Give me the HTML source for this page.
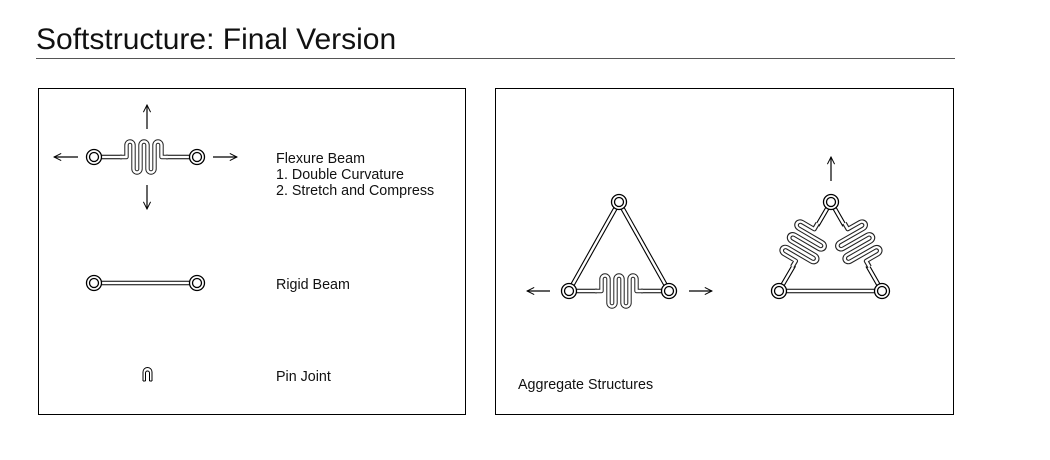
<!DOCTYPE html>
<html><head><meta charset="utf-8"><style>
html,body{margin:0;padding:0;background:#fff;}
svg{display:block;font-family:"Liberation Sans",Arial,sans-serif;}
</style></head><body>
<svg width="1050" height="460" viewBox="0 0 1050 460" xmlns="http://www.w3.org/2000/svg">
<defs>
<path id="mh" d="M-24 0 H-17.5 V-12 A3.5 3.5 0 0 1 -10.5 -12 V12 A3.5 3.5 0 0 0 -3.5 12 V-12 A3.5 3.5 0 0 1 3.5 -12 V12 A3.5 3.5 0 0 0 10.5 12 V-12 A3.5 3.5 0 0 1 17.5 -12 V0 H24"/>
<g id="jt"><circle r="7.5" fill="#fff" stroke="#000" stroke-width="1.3"/><circle r="4.5" fill="#fff" stroke="#000" stroke-width="1.3"/></g>
<marker id="ar" viewBox="0 0 10 10" refX="9" refY="5" markerWidth="9" markerHeight="9" orient="auto" markerUnits="userSpaceOnUse"><path d="M1 1 L9 5 L1 9" fill="none" stroke="#000" stroke-width="1.1"/></marker>
</defs>
<text x="36" y="49" font-size="30" fill="#111">Softstructure: Final Version</text>
<line x1="36" y1="58.5" x2="955" y2="58.5" stroke="#555" stroke-width="1"/>
<rect x="38.5" y="88.5" width="427" height="326" fill="none" stroke="#000" stroke-width="1"/>
<rect x="495.5" y="88.5" width="458" height="326" fill="none" stroke="#000" stroke-width="1"/>

<g fill="none" stroke="#000" stroke-width="1.2" marker-end="url(#ar)">
<line x1="78" y1="157" x2="54" y2="157"/><line x1="213" y1="157" x2="237" y2="157"/>
<line x1="147" y1="129" x2="147" y2="105"/><line x1="147" y1="185" x2="147" y2="209"/>
<line x1="550" y1="291" x2="527" y2="291"/><line x1="689" y1="291" x2="712" y2="291"/>
<line x1="831" y1="181" x2="831" y2="157"/>
</g>

<g fill="none" stroke-linejoin="round">
<g stroke="#000" stroke-width="4.6">
<line x1="94" y1="157" x2="197" y2="157"/>
<line x1="94" y1="283" x2="197" y2="283"/>
<line x1="619" y1="202" x2="569" y2="291"/><line x1="619" y1="202" x2="669" y2="291"/><line x1="569" y1="291" x2="669" y2="291"/>
<line x1="831" y1="202" x2="779" y2="291"/><line x1="831" y1="202" x2="882" y2="291"/><line x1="779" y1="291" x2="882" y2="291"/>
</g>
<g stroke="#fff" stroke-width="2.4">
<line x1="94" y1="157" x2="197" y2="157"/>
<line x1="94" y1="283" x2="197" y2="283"/>
<line x1="619" y1="202" x2="569" y2="291"/><line x1="619" y1="202" x2="669" y2="291"/><line x1="569" y1="291" x2="669" y2="291"/>
<line x1="831" y1="202" x2="779" y2="291"/><line x1="831" y1="202" x2="882" y2="291"/><line x1="779" y1="291" x2="882" y2="291"/>
</g>
<g transform="translate(144,157)"><rect x="-22" y="-17" width="44" height="34" fill="#fff" stroke="none"/><use href="#mh" stroke="#222" stroke-width="4.4"/><use href="#mh" stroke="#fff" stroke-width="2.4"/></g>
<g transform="translate(619,291)"><rect x="-22" y="-17" width="44" height="34" fill="#fff" stroke="none"/><use href="#mh" stroke="#222" stroke-width="4.4"/><use href="#mh" stroke="#fff" stroke-width="2.4"/></g>
<g transform="translate(805,245) rotate(-59.7) scale(1.05,1.15)"><rect x="-22" y="-17" width="44" height="34" fill="#fff" stroke="none"/><use href="#mh" stroke="#222" stroke-width="4.2"/><use href="#mh" stroke="#fff" stroke-width="2.2"/></g>
<g transform="translate(857,245) rotate(60.2) scale(1.05,1.15)"><rect x="-22" y="-17" width="44" height="34" fill="#fff" stroke="none"/><use href="#mh" stroke="#222" stroke-width="4.2"/><use href="#mh" stroke="#fff" stroke-width="2.2"/></g>
</g>

<use href="#jt" x="94" y="157"/><use href="#jt" x="197" y="157"/>
<use href="#jt" x="94" y="283"/><use href="#jt" x="197" y="283"/>
<use href="#jt" x="619" y="202"/><use href="#jt" x="569" y="291"/><use href="#jt" x="669" y="291"/>
<use href="#jt" x="831" y="202"/><use href="#jt" x="779" y="291"/><use href="#jt" x="882" y="291"/>

<g fill="none" stroke="#000" stroke-width="1">
<path d="M143 381 V372 A4.5 4.5 0 0 1 152 372 V381"/>
<path d="M145.5 381 V373 A2 2 0 0 1 149.5 373 V381"/>
<path d="M143 381 H145.5 M149.5 381 H152"/>
</g>

<g font-size="14.3" fill="#111">
<text x="276" y="163">Flexure Beam</text>
<text x="276" y="179">1. Double Curvature</text>
<text x="276" y="195">2. Stretch and Compress</text>
<text x="276" y="289">Rigid Beam</text>
<text x="276" y="381">Pin Joint</text>
<text x="518" y="389">Aggregate Structures</text>
</g>
</svg>
</body></html>
